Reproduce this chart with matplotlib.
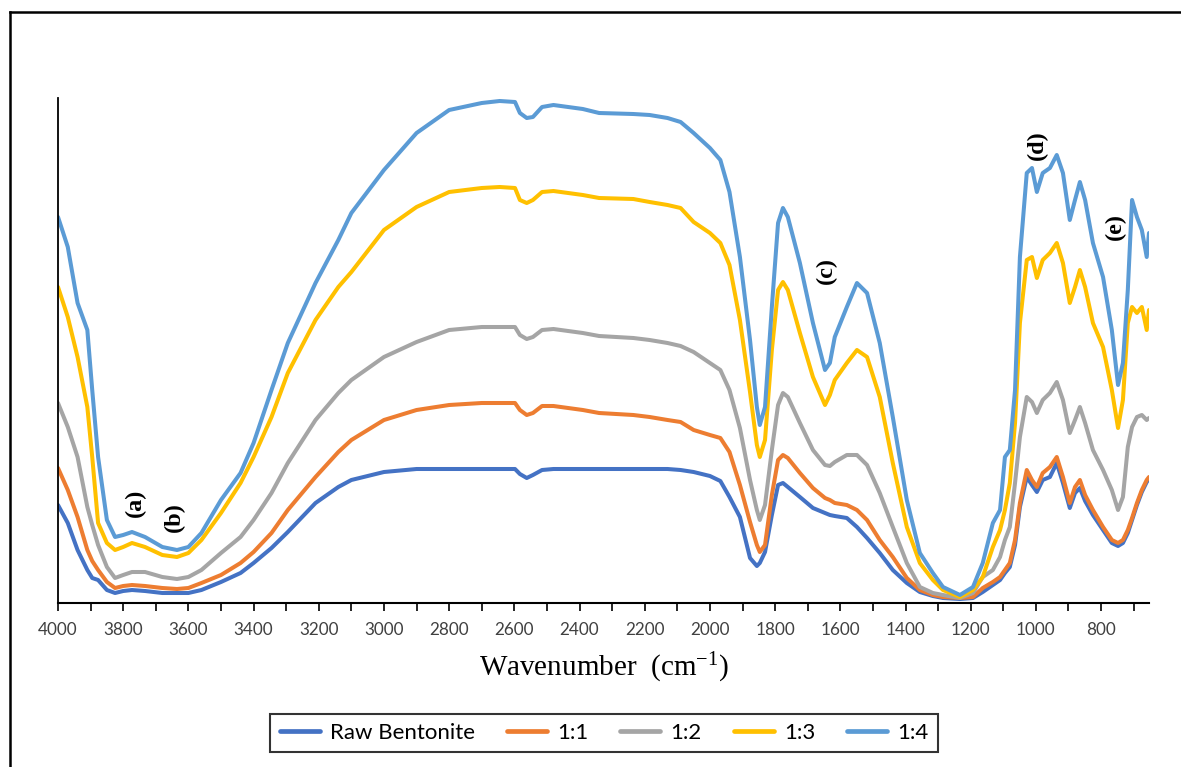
import matplotlib
matplotlib.use("Agg")
import matplotlib.pyplot as plt
from matplotlib.ticker import MultipleLocator
from matplotlib.lines import Line2D

plt.rcParams["mathtext.default"] = "regular"

# ---------------- data (FTIR spectra, transmittance in arbitrary units) ----------------
wavenumber = [4000, 3970, 3940, 3910, 3895, 3877, 3850, 3825, 3800, 3773,
              3733, 3680, 3635, 3600, 3560, 3500, 3440, 3400, 3345, 3295,
              3210, 3140, 3100, 3000, 2900, 2800, 2700, 2645, 2598, 2583,
              2562, 2543, 2515, 2480, 2390, 2340, 2235, 2185, 2130, 2090,
              2050, 2000, 1968, 1940, 1908, 1877, 1856, 1847, 1831, 1810,
              1791, 1776, 1761, 1724, 1684, 1647, 1632, 1617, 1580, 1549,
              1518, 1479, 1439, 1396, 1356, 1316, 1285, 1233, 1193, 1163,
              1132, 1110, 1095, 1080, 1064, 1049, 1028, 1012, 997, 979,
              957, 936, 917, 896, 880, 865, 849, 825, 794, 767,
              748, 733, 718, 705, 690, 675, 660, 653]

raw_bentonite = [98, 80, 53, 33, 25, 23, 13, 10, 12, 13,
                 12, 10, 10, 10, 13, 21, 30, 40, 55, 71,
                 100, 116, 123, 131, 134, 134, 134, 134, 134, 129,
                 125, 128, 133, 134, 134, 134, 134, 134, 134, 133,
                 131, 127, 122, 106, 86, 45, 37, 40, 51, 88,
                 118, 120, 116, 106, 95, 90, 88, 87, 85, 76,
                 65, 50, 33, 20, 11, 7, 5, 4, 5, 11,
                 18, 23, 30, 36, 58, 96, 126, 118, 111, 123,
                 126, 140, 120, 95, 110, 115, 102, 88, 73, 60,
                 57, 60, 70, 83, 98, 111, 121, 124]

ratio_1_1 = [135, 113, 86, 53, 42, 33, 21, 15, 17, 18,
             17, 15, 14, 15, 20, 28, 40, 51, 70, 93,
             126, 151, 163, 183, 193, 198, 200, 200, 200, 193,
             188, 190, 197, 197, 193, 190, 188, 186, 183, 181,
             173, 168, 165, 151, 118, 81, 58, 51, 58, 108,
             143, 148, 145, 130, 115, 105, 103, 100, 98, 93,
             83, 63, 46, 25, 13, 8, 6, 5, 6, 15,
             21, 26, 33, 40, 63, 100, 133, 123, 116, 130,
             136, 146, 126, 100, 116, 123, 108, 93, 76, 63,
             60, 63, 73, 85, 100, 113, 123, 126]

ratio_1_2 = [200, 176, 146, 96, 78, 58, 36, 25, 28, 31,
             31, 26, 24, 26, 33, 50, 66, 83, 110, 140,
             183, 210, 223, 246, 261, 273, 276, 276, 276, 268,
             264, 266, 273, 274, 270, 267, 265, 263, 260, 257,
             251, 240, 233, 213, 175, 123, 93, 83, 98, 153,
             198, 210, 206, 180, 153, 138, 137, 141, 148, 148,
             138, 110, 76, 40, 16, 10, 8, 5, 10, 26,
             33, 46, 63, 76, 120, 166, 206, 201, 190, 203,
             210, 221, 203, 170, 183, 196, 180, 153, 133, 113,
             93, 106, 156, 176, 186, 188, 183, 185]

ratio_1_3 = [316, 286, 246, 196, 146, 80, 60, 53, 56, 60,
             56, 48, 46, 50, 63, 90, 120, 146, 186, 230,
             283, 316, 331, 373, 396, 411, 415, 416, 415, 403,
             400, 403, 411, 412, 408, 405, 404, 401, 398, 395,
             381, 370, 360, 338, 283, 211, 158, 146, 163, 253,
             313, 321, 313, 270, 226, 198, 208, 223, 240, 253,
             246, 206, 140, 76, 40, 23, 13, 6, 13, 26,
             56, 73, 93, 120, 180, 280, 343, 346, 325, 343,
             350, 360, 340, 300, 316, 333, 316, 280, 256, 213,
             175, 203, 280, 296, 290, 296, 273, 293]

ratio_1_4 = [386, 356, 300, 273, 213, 146, 83, 66, 68, 71,
             66, 56, 53, 56, 70, 103, 130, 160, 213, 260,
             320, 363, 390, 433, 470, 493, 500, 502, 501, 490,
             485, 486, 496, 498, 494, 490, 489, 488, 485, 481,
             470, 455, 443, 411, 346, 263, 196, 178, 196, 296,
             380, 395, 386, 340, 280, 233, 240, 266, 296, 320,
             310, 260, 186, 103, 50, 30, 16, 8, 16, 40,
             80, 93, 146, 153, 213, 346, 430, 435, 411, 430,
             435, 448, 430, 383, 403, 421, 403, 360, 326, 273,
             218, 240, 313, 403, 386, 373, 346, 370]

series_names = ["Raw Bentonite", "1:1", "1:2", "1:3", "1:4"]
series_values = [raw_bentonite, ratio_1_1, ratio_1_2, ratio_1_3, ratio_1_4]
series_colors = ["#4472C4", "#ED7D31", "#A5A5A5", "#FFC000", "#5B9BD5"]

peak_labels = ["(a)", "(b)", "(c)", "(d)", "(e)"]
peak_x = [3764, 3644, 1644, 997, 755]
peak_y = [100, 86, 333, 458, 377]

# ---------------- figure ----------------
W, H = 1181, 767
fig = plt.figure(figsize=(W / 100, H / 100), dpi=100)
ax = fig.add_axes([58 / W, 164 / H, 1091 / W, 505 / H])

for name, vals, col in zip(series_names, series_values, series_colors):
    ax.plot(wavenumber, vals, color=col, lw=2.9, label=name,
            solid_joinstyle="round", solid_capstyle="round")

ax.set_xlim(4000, 653)
ax.set_ylim(0, 505)

for s in ["top", "right"]:
    ax.spines[s].set_visible(False)
ax.spines["left"].set_color("black")
ax.spines["left"].set_linewidth(1.3)
ax.spines["bottom"].set_color("black")
ax.spines["bottom"].set_linewidth(1.5)

ax.xaxis.set_major_locator(MultipleLocator(200))
ax.xaxis.set_minor_locator(MultipleLocator(100))
ax.tick_params(axis="x", which="both", direction="out", length=5.5, width=1.2, color="black")
ax.tick_params(axis="x", which="major", labelsize=12.3, labelcolor="#404040", pad=8)
for lab in ax.get_xticklabels():
    lab.set_fontfamily("Lato")
ax.set_yticks([])

for t, x, y in zip(peak_labels, peak_x, peak_y):
    ax.text(x, y, t, rotation=90, fontsize=17.5, fontweight="bold",
            family="Liberation Serif", ha="center", va="center")

fig.text(603.5 / W, 1 - 668 / H, "Wavenumber  (cm$^{\\mathregular{-1}}$)",
         ha="center", va="center", fontsize=21, family="Liberation Serif")

handles = [Line2D([], [], color=c, lw=3.4, solid_capstyle="round") for c in series_colors]
leg = fig.legend(handles, series_names, loc="center",
                 bbox_to_anchor=(604 / W, 1 - 733 / H), ncol=5, frameon=True,
                 fancybox=False, edgecolor="black",
                 prop={"family": "Lato", "size": 16},
                 handlelength=1.8, handletextpad=0.45, columnspacing=1.45,
                 borderpad=0.42, borderaxespad=0)
leg.get_frame().set_linewidth(1.5)

# outer chart frame
fig.add_artist(Line2D([10 / W, 10 / W], [0, 1 - 12 / H], transform=fig.transFigure,
                      color="black", lw=1.8))
fig.add_artist(Line2D([10 / W, 1], [1 - 12 / H, 1 - 12 / H], transform=fig.transFigure,
                      color="black", lw=1.8))

fig.savefig("out.png", dpi=100, facecolor="white")
